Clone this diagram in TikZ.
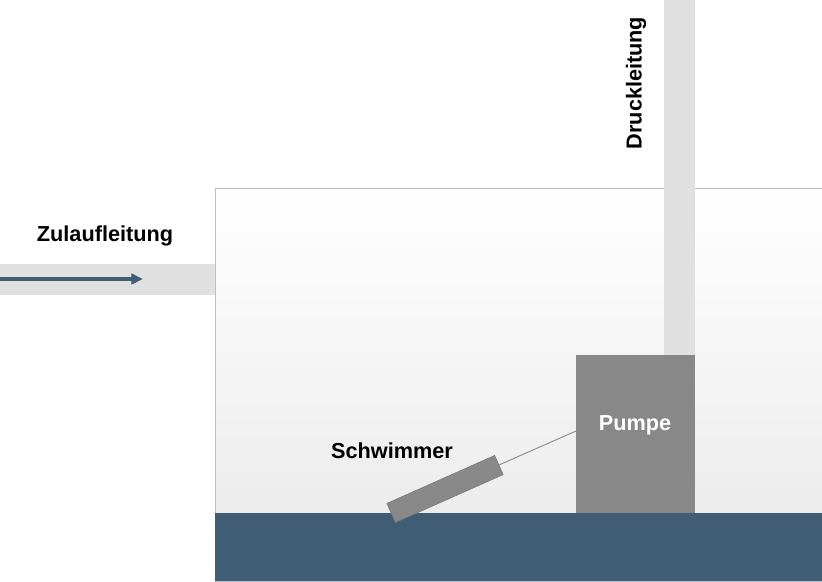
\documentclass[tikz,border=0pt]{standalone}
\usepackage{fontspec}
\setmainfont{Liberation Sans}
\usetikzlibrary{arrows.meta}
\definecolor{water}{HTML}{405D75}
\definecolor{pipe}{HTML}{E0E0E0}
\definecolor{pumpgray}{HTML}{888888}
\begin{document}
\begin{tikzpicture}[x=0.03cm, y=-0.03cm,
        every node/.style={font=\bfseries\fontsize{18.5}{20}\selectfont},
        pipebox/.style={fill=pipe, draw=none}
    ]
        \useasboundingbox (0,0) rectangle (822,581);
        % Behälter
        \shade[top color=white, bottom color=black!9, draw=black!25, line width=0.6pt]
            (215,188) rectangle (823,581);
        \fill[water] (215,513) rectangle (823,581);

        % Leitungen
        \fill[pipebox] (0,264) rectangle (215,295);
        \fill[pipebox] (664,-1) rectangle (695,355);
        \coordinate (inA) at (0,279);
        \coordinate (inB) at (143,279);
        \draw[water, line width=2.6pt, -{Triangle[length=10pt, width=9pt]}] (inA) -- (inB);
        \node (zulauf) at (105,236) {Zulaufleitung};
        \node[rotate=90] (druck) at (636,83) {Druckleitung};

        % Pumpe
        \node[fill=pumpgray, minimum width=119*0.03cm, minimum height=158*0.03cm,
              anchor=north west, inner sep=0pt] (pumpe) at (576,355) {};
        \node[text=white] (plabel) at (635,425) {Pumpe};

        % Schwimmer
        \node[fill=pumpgray, draw=black!55, line width=0.4pt, rotate=24,
              minimum width=118*0.03cm, minimum height=21*0.03cm, inner sep=0pt] (float) at (445,489) {};
        \draw[black!45, line width=0.8pt] (float.east) -- (576,431);
        \node (schwimmer) at (392,451) {Schwimmer};
\end{tikzpicture}
\end{document}
